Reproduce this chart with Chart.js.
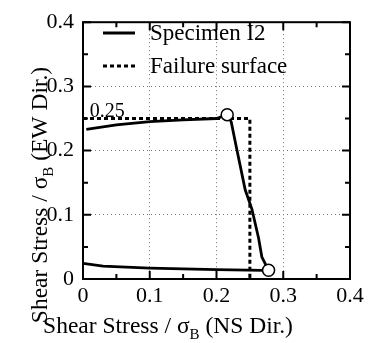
<!DOCTYPE html>
<html>
<head>
<meta charset="utf-8">
<script src="https://cdn.jsdelivr.net/npm/chart.js@4"></script>
<style>
  html, body { margin: 0; padding: 0; background: #fff; }
  #wrap { width: 373px; height: 343px; }
</style>
</head>
<body>
<div id="wrap"><canvas id="chart"></canvas></div>
<script>
// specimen I2 path (NS dir., EW dir.)
const specX = [0.005, 0.05, 0.1, 0.15, 0.2, 0.216, 0.222, 0.230, 0.243, 0.253, 0.263, 0.268, 0.278, 0.27, 0.2, 0.1, 0.03, 0];
const specY = [0.233, 0.240, 0.245, 0.248, 0.250, 0.256, 0.245, 0.204, 0.139, 0.109, 0.064, 0.034, 0.0135, 0.0135, 0.0146, 0.017, 0.020, 0.0245];
// failure surface
const failX = [0, 0.25, 0.25];
const failY = [0.25, 0.25, 0];
// open circles
const markX = [0.216, 0.278];
const markY = [0.256, 0.0135];
const majorTicks = [0, 0.1, 0.2, 0.3, 0.4];
const minorTicks = [0.05, 0.15, 0.25, 0.35];
const legendNames = ['Specimen I2', 'Failure surface'];

const FONT = '"Liberation Serif", "Times New Roman", serif';

function pts(xs, ys) {
    return xs.map((x, i) => ({ x: x, y: ys[i] }));
}

const decor = {
    id: 'decor',
    beforeDatasetsDraw(chart) {
        const c = chart.ctx, a = chart.chartArea;
        const sx = chart.scales.x, sy = chart.scales.y;
        c.save();
        c.strokeStyle = '#000';
        c.lineWidth = 2;
        c.strokeRect(a.left, a.top, a.right - a.left, a.bottom - a.top);
        // inward ticks on all four sides
        const tick = (v, len) => {
            const px = sx.getPixelForValue(v), py = sy.getPixelForValue(v);
            c.beginPath();
            c.moveTo(px, a.bottom); c.lineTo(px, a.bottom - len);
            c.moveTo(px, a.top); c.lineTo(px, a.top + len);
            c.moveTo(a.left, py); c.lineTo(a.left + len, py);
            c.moveTo(a.right, py); c.lineTo(a.right - len, py);
            c.stroke();
        };
        majorTicks.forEach(v => tick(v, 8));
        minorTicks.forEach(v => tick(v, 5));
        c.restore();
    },
    afterDraw(chart) {
        const c = chart.ctx, a = chart.chartArea;
        const sx = chart.scales.x, sy = chart.scales.y;
        c.save();
        c.fillStyle = '#000';
        c.strokeStyle = '#000';
        // legend
        c.font = '23px ' + FONT;
        c.textBaseline = 'middle';
        c.lineWidth = 3;
        c.beginPath(); c.moveTo(103, 33); c.lineTo(135, 33); c.stroke();
        c.setLineDash([4, 3]);
        c.beginPath(); c.moveTo(103, 66); c.lineTo(135, 66); c.stroke();
        c.setLineDash([]);
        c.fillText(legendNames[0], 150, 34);
        c.fillText(legendNames[1], 150, 67);
        // 0.25 label
        c.textBaseline = 'alphabetic';
        c.font = '20px ' + FONT;
        c.fillText('0.25', sx.getPixelForValue(0.01), sy.getPixelForValue(0.25) - 2);
        // axis titles with subscript B
        const title = (cx, cy, dir) => {
            const big = '23.5px ' + FONT, small = '15px ' + FONT;
            const p1 = 'Shear Stress / \u03c3', p3 = ' (' + dir + ' Dir.)';
            c.font = big; const w1 = c.measureText(p1).width, w3 = c.measureText(p3).width;
            c.font = small; const w2 = c.measureText('B').width;
            let x = cx - (w1 + w2 + w3) / 2;
            c.font = big; c.fillText(p1, x, cy); x += w1;
            c.font = small; c.fillText('B', x, cy + 6); x += w2;
            c.font = big; c.fillText(p3, x, cy);
        };
        title(168, 333, 'NS');
        c.translate(47, 195);
        c.rotate(-Math.PI / 2);
        title(0, 0, 'EW');
        c.restore();
    }
};

const tickFont = { family: FONT, size: 22 };

new Chart(document.getElementById('chart'), {
    type: 'line',
    data: {
        datasets: [{
            data: pts(markX, markY),
            showLine: false,
            pointRadius: 6,
            pointBackgroundColor: '#fff',
            pointBorderColor: '#000',
            pointBorderWidth: 1.5
        }, {
            data: pts(specX, specY),
            borderColor: '#000',
            borderWidth: 2.8,
            pointRadius: 0,
            tension: 0,
            fill: false
        }, {
            data: pts(failX, failY),
            borderColor: '#000',
            borderWidth: 3,
            borderDash: [4, 3],
            pointRadius: 0,
            fill: false
        }]
    },
    options: {
        responsive: true,
        maintainAspectRatio: false,
        animation: false,
        layout: { padding: { left: 0, right: 23, top: 13, bottom: 0 } },
        plugins: { legend: { display: false }, tooltip: { enabled: false } },
        scales: {
            x: {
                type: 'linear',
                min: 0, max: 0.4,
                afterFit: s => { s.height = 64; },
                ticks: {
                    stepSize: 0.1, color: '#000', font: tickFont, padding: 4, maxRotation: 0,
                    callback: v => v === 0 ? '0' : v.toFixed(1)
                },
                grid: { color: '#777', lineWidth: 1, drawTicks: false },
                border: { display: false, dash: [1, 3] }
            },
            y: {
                type: 'linear',
                min: 0, max: 0.4,
                afterFit: s => { s.width = 83; },
                ticks: {
                    stepSize: 0.1, color: '#000', font: tickFont, padding: 9,
                    callback: v => v === 0 ? '0' : v.toFixed(1)
                },
                grid: { color: '#777', lineWidth: 1, drawTicks: false },
                border: { display: false, dash: [1, 3] }
            }
        }
    },
    plugins: [decor]
});
</script>
</body>
</html>
